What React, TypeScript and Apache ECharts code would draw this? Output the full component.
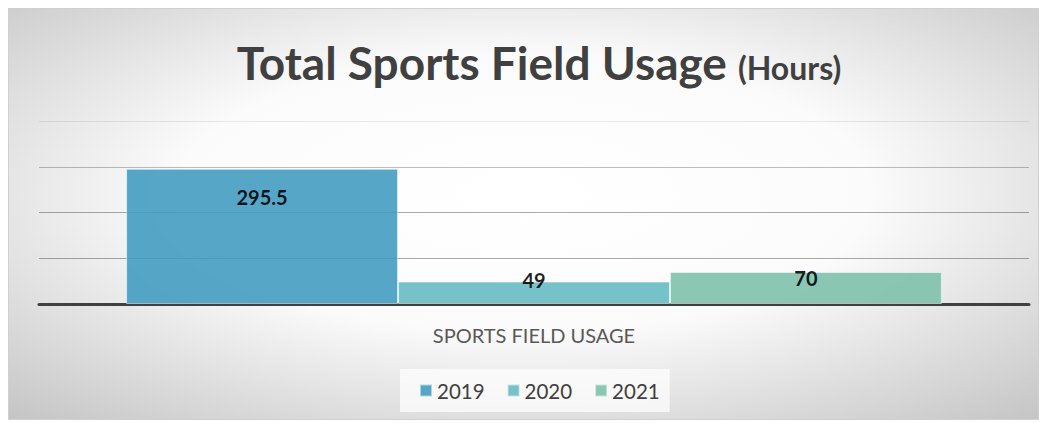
import React, { useEffect, useRef } from "react";
import * as echarts from "echarts";

const categories = ["SPORTS FIELD USAGE"];
const years = ["2019", "2020", "2021"];
const values2019 = [295.5];
const values2020 = [49];
const values2021 = [70];
const yTicks = [0, 100, 200, 300, 400];

const colors = ["#3f9ac0", "#63bac1", "#7cbfa8"];
const labelDistances = [18, -12, -4];

export default function App() {
  const ref = useRef<HTMLDivElement>(null);
  useEffect(() => {
    if (!ref.current) return;
    const chart = echarts.init(ref.current, null, { renderer: "svg" });
    const seriesValues = [values2019, values2020, values2021];
    chart.setOption({
      animation: false,
      backgroundColor: {
        type: "radial",
        x: 0.5,
        y: 0.45,
        r: 0.75,
        colorStops: [
          { offset: 0, color: "#ffffff" },
          { offset: 0.45, color: "#fbfbfb" },
          { offset: 1, color: "#c4c4c4" },
        ],
      },
      title: {
        left: 525,
        textAlign: "center",
        top: 16,
        text: "{a|Total Sports Field Usage} {b|(Hours)}",
        textStyle: {
          rich: {
            a: { fontFamily: "Lato", fontWeight: "bold", fontSize: 46, color: "#404040", lineHeight: 55, verticalAlign: "bottom" },
            b: { fontFamily: "Lato", fontWeight: "bold", fontSize: 32, color: "#404040", lineHeight: 45, verticalAlign: "bottom", padding: [0, 0, 2, 6] },
          },
        },
      },
      legend: {
        data: years,
        top: 360,
        left: 391,
        icon: "rect",
        itemWidth: 12,
        itemHeight: 12,
        itemGap: 22,
        padding: [11, 10, 11, 19],
        backgroundColor: "rgba(255,255,255,0.7)",
        textStyle: { fontFamily: "Lato", fontSize: 20.5, color: "#404040" },
      },
      grid: { left: 30, right: 9, top: 112, bottom: 115 },
      xAxis: {
        type: "category",
        data: categories,
        axisLine: { lineStyle: { color: "#404040", width: 3 } },
        axisTick: { show: false },
        axisLabel: { fontFamily: "Lato", fontSize: 20, color: "#595959", margin: 21 },
      },
      yAxis: {
        type: "value",
        min: yTicks[0],
        max: yTicks[yTicks.length - 1],
        interval: 100,
        axisLabel: { show: false },
        axisLine: { show: false },
        axisTick: { show: false },
        splitLine: {
          lineStyle: {
            color: ["rgba(0,0,0,0)", "rgba(0,0,0,0.33)", "rgba(0,0,0,0.33)", "rgba(0,0,0,0.25)", "rgba(0,0,0,0.08)"],
            width: 1,
          },
        },
      },
      series: years.map((y, i) => ({
        name: y,
        type: "bar",
        data: seriesValues[i],
        barGap: "0%",
        barCategoryGap: "17.6%",
        itemStyle: {
          color: colors[i],
          opacity: 0.88,
          borderColor: "rgba(255,255,255,0.6)",
          borderWidth: 1,
        },
        label: {
          show: true,
          position: "insideTop",
          distance: labelDistances[i],
          fontFamily: "Lato",
          fontWeight: "bold",
          fontSize: 20,
          color: "#000000",
        },
        z: 1,
      })),
    });
    return () => chart.dispose();
  }, []);
  return (
    <div
      ref={ref}
      style={{ width: 1031, height: 412, boxSizing: "border-box", border: "1px solid #d0d0d0" }}
    />
  );
}
